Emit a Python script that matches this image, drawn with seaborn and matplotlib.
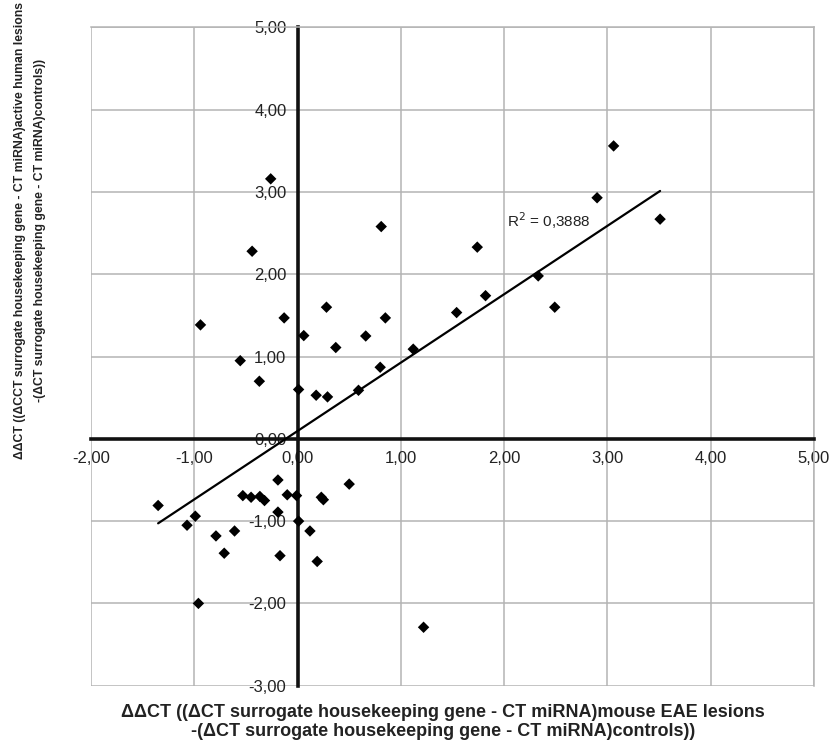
import numpy as np
import pandas as pd
import matplotlib
matplotlib.use("Agg")
import matplotlib.pyplot as plt
import seaborn as sns
from matplotlib.ticker import FuncFormatter, MultipleLocator

# ----------------------------------------------------------
# data
# ----------------------------------------------------------
mouse_ddct = [-0.26, -0.44, -0.94, -0.13, 0.28, 0.06, 0.37, 0.66, 0.80, 0.85,
              -0.555, -0.37, 0.01, 0.18, 0.29, 0.59, -0.19, 0.50, -1.35, -0.99,
              -1.07, -0.53, -0.45, -0.365, -0.32, -0.10, -0.01, 0.23, 0.25, -0.19,
              0.01, 0.12, -0.79, -0.61, -0.71, -0.17, 0.19, -0.96, 1.22, 0.81,
              1.74, 2.90, 3.51, 2.33, 1.82, 2.49, 1.54, 1.12, 3.06]
human_ddct = [3.16, 2.28, 1.385, 1.47, 1.60, 1.255, 1.11, 1.25, 0.87, 1.47,
              0.95, 0.70, 0.60, 0.53, 0.51, 0.59, -0.50, -0.55, -0.81, -0.94,
              -1.05, -0.69, -0.71, -0.70, -0.75, -0.68, -0.69, -0.71, -0.74, -0.89,
              -1.00, -1.12, -1.18, -1.12, -1.39, -1.42, -1.49, -2.00, -2.29, 2.58,
              2.33, 2.93, 2.67, 1.98, 1.74, 1.60, 1.535, 1.09, 3.56]
r2_label = "R$^2$ = 0,3888"
x_title = ("\u0394\u0394CT ((\u0394CT surrogate housekeeping gene - CT miRNA)mouse EAE lesions\n"
           "-(\u0394CT surrogate housekeeping gene - CT miRNA)controls))")
y_title = ("\u0394\u0394CT ((\u0394CCT surrogate housekeeping gene - CT miRNA)active human lesions\n"
           "-(\u0394CT surrogate housekeeping gene - CT miRNA)controls))")

df = pd.DataFrame({"mouse": mouse_ddct, "human": human_ddct})

# ----------------------------------------------------------
# style
# ----------------------------------------------------------
sns.set_style("white")
plt.rcParams["font.family"] = ["Liberation Sans", "DejaVu Sans"]

fig = plt.figure(figsize=(8.34, 7.42), dpi=100)
ax = fig.add_axes([0.1091, 0.0759, 0.976 - 0.1091, 0.963 - 0.0759])

sns.regplot(data=df, x="mouse", y="human", scatter=False, ci=None, truncate=True,
            line_kws=dict(color="black", lw=1.6, zorder=3), ax=ax)
sns.scatterplot(data=df, x="mouse", y="human", marker="D", s=34, color="black",
                edgecolor="none", zorder=4, ax=ax)

ax.set_xlim(-2, 5)
ax.set_ylim(-3, 5)
ax.xaxis.set_major_locator(MultipleLocator(1))
ax.yaxis.set_major_locator(MultipleLocator(1))
fmt = FuncFormatter(lambda v, p: f"{v:.2f}".replace(".", ","))
ax.xaxis.set_major_formatter(fmt)
ax.yaxis.set_major_formatter(fmt)
ax.grid(True, color="#b4b4b4", lw=1.1, zorder=0)
ax.set_axisbelow(True)

for side in ["left", "bottom"]:
    ax.spines[side].set_position(("data", 0))
    ax.spines[side].set_linewidth(2.6)
    ax.spines[side].set_color("#111111")
    ax.spines[side].set_zorder(2.5)
for side in ["top", "right"]:
    ax.spines[side].set_linewidth(1.1)
    ax.spines[side].set_color("#b4b4b4")

ax.tick_params(axis="both", length=0, labelsize=12, colors="#222222")
ax.tick_params(axis="y", pad=8)
ax.tick_params(axis="x", pad=9)
ax.set_xlabel("")
ax.set_ylabel("")

ax.text(2.03, 2.65, r2_label, fontsize=11, color="#222222", va="center", ha="left")

fig.text(0.531, 0.027, x_title, ha="center", va="center", fontsize=13,
         fontweight="bold", color="#222222", linespacing=1.1)
fig.text(0.036, 0.69, y_title, ha="center", va="center", fontsize=8.8,
         fontweight="bold", color="#222222", rotation=90, linespacing=1.8)

fig.savefig("out.png", dpi=100)
